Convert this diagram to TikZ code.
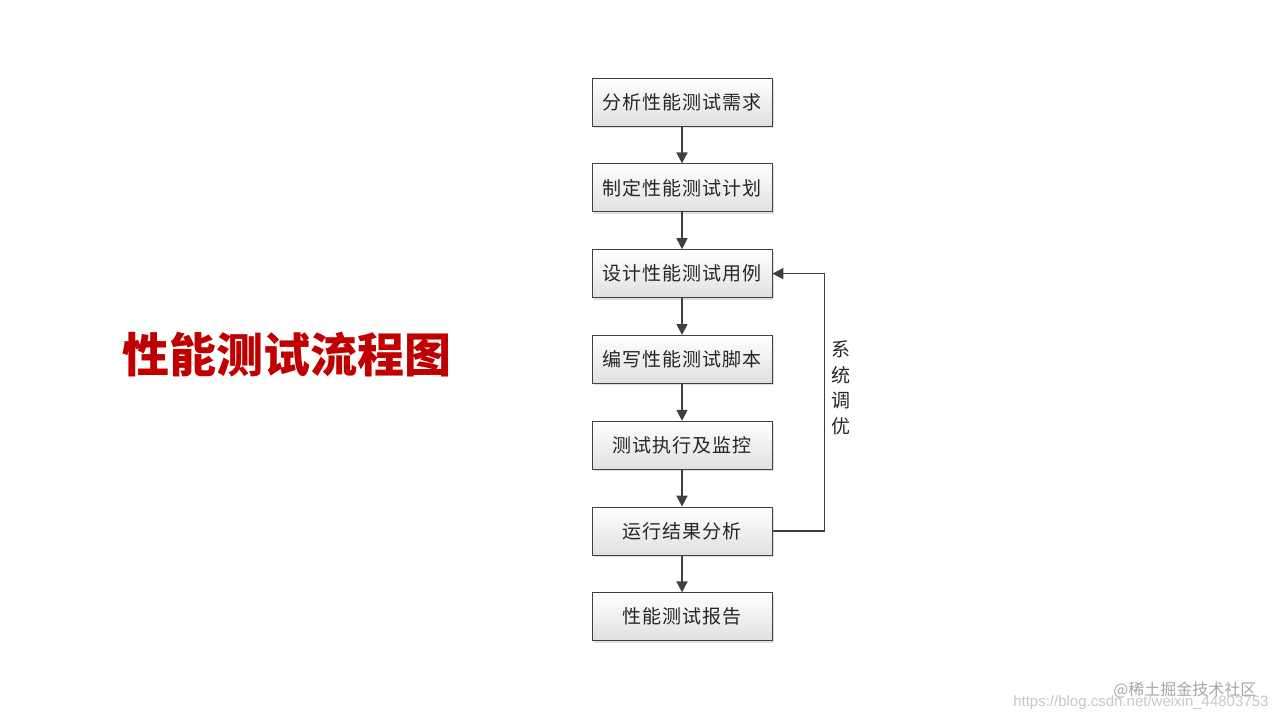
\documentclass[tikz,border=0pt]{standalone}
\usepackage{fontspec}
\setmainfont{Noto Sans CJK SC}
\newfontfamily\latinfont{Liberation Sans}
\newfontfamily\stagefont[LetterSpace=6]{Noto Sans CJK SC}
\usetikzlibrary{arrows.meta,positioning,shadows}
\definecolor{titlered}{RGB}{192,0,0}
\definecolor{linegray}{RGB}{64,64,64}

\begin{document}
\begin{tikzpicture}[
            x=1pt, y=-1pt,
            font=\stagefont\fontsize{19}{22}\selectfont,
            node distance=37pt,
            stage/.style={draw=linegray, line width=0.8pt, text=black!85, minimum width=180pt, minimum height=48pt, inner sep=0pt, top color=white, bottom color=black!12, drop shadow={opacity=0.25, shadow xshift=2pt, shadow yshift=-2pt}},
            arrow/.style={-{Triangle[length=11pt,width=11pt]}, line width=1.7pt, draw=linegray}
        ]
            \useasboundingbox (0,0) rectangle (1280,720);

            \node[text=titlered, font=\fontsize{47}{50}\selectfont\bfseries] (title) at (287,355) {性能测试流程图};

            \node[stage] (analyse) at (682,102) {分析性能测试需求};
            \node[stage, below=of analyse] (plan) {制定性能测试计划};
            \node[stage, below=of plan] (design) {设计性能测试用例};
            \node[stage, below=of design] (script) {编写性能测试脚本};
            \node[stage, below=of script] (run) {测试执行及监控};
            \node[stage, below=of run] (result) {运行结果分析};
            \node[stage, below=of result] (report) {性能测试报告};

            \draw[arrow] (analyse) -- (plan);
            \draw[arrow] (plan) -- (design);
            \draw[arrow] (design) -- (script);
            \draw[arrow] (script) -- (run);
            \draw[arrow] (run) -- (result);
            \draw[arrow] (result) -- (report);
            \draw[arrow] (result.east) -- ++(52pt,0) |- (design.east);

            \node[align=center, text=black!85, font=\fontsize{19}{25.5}\selectfont] (tune) at (841,388) {系\\统\\调\\优};

            % watermark
            \node[text=black!22, font=\latinfont\fontsize{15}{16}\selectfont, anchor=east] (url) at (1272,703) {https://blog.csdn.net/weixin\_44803753};
            \node[text=black!35, font=\fontsize{16}{18}\selectfont, anchor=east] (mark) at (1260,690) {@稀土掘金技术社区};
        \end{tikzpicture}
\end{document}
